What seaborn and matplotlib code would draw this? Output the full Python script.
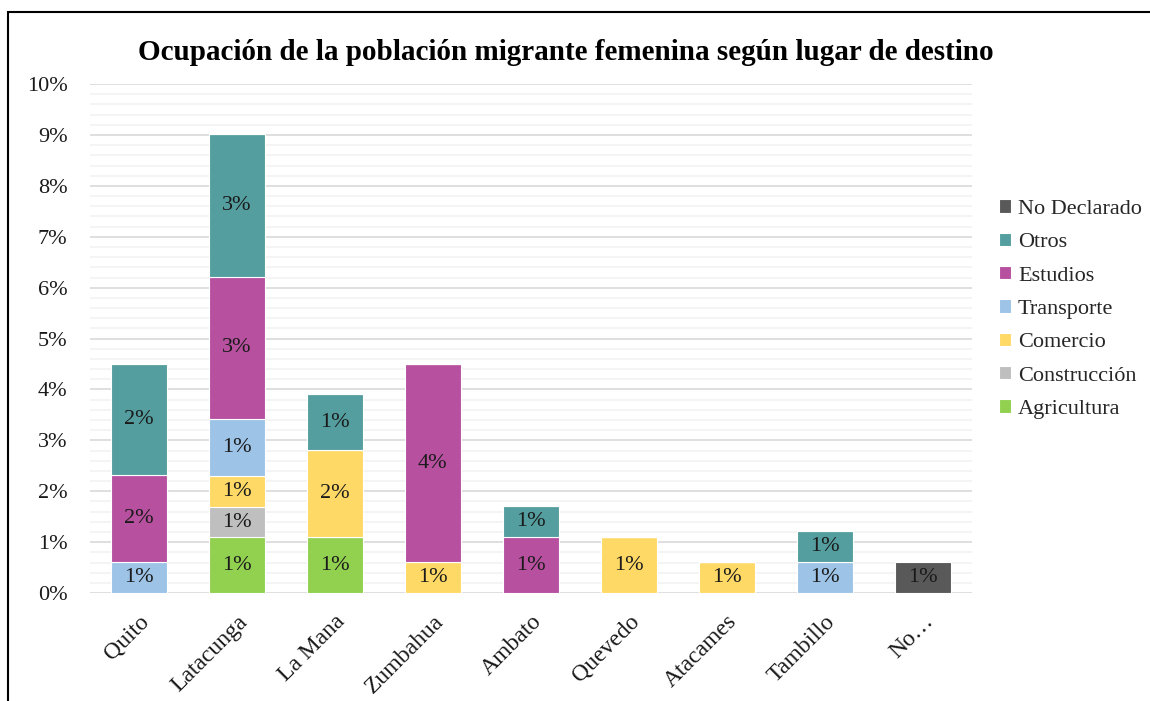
import matplotlib
matplotlib.use("Agg")
import matplotlib.pyplot as plt
from matplotlib.patches import Rectangle
from matplotlib.ticker import MultipleLocator, PercentFormatter
import seaborn as sns
import pandas as pd

# Destinations (x axis)
destinos = ["Quito", "Latacunga", "La Mana", "Zumbahua", "Ambato",
            "Quevedo", "Atacames", "Tambillo", "No…"]

# Share of female migrant population by occupation (percent), bottom to top
agricultura  = [0.00, 1.10, 1.10, 0.00, 0.00, 0.00, 0.00, 0.00, 0.00]
construccion = [0.00, 0.59, 0.00, 0.00, 0.00, 0.00, 0.00, 0.00, 0.00]
comercio     = [0.00, 0.61, 1.71, 0.61, 0.00, 1.10, 0.61, 0.00, 0.00]
transporte   = [0.61, 1.12, 0.00, 0.00, 0.00, 0.00, 0.00, 0.61, 0.00]
estudios     = [1.71, 2.79, 0.00, 3.89, 1.10, 0.00, 0.00, 0.00, 0.00]
otros        = [2.18, 2.81, 1.10, 0.00, 0.61, 0.00, 0.00, 0.61, 0.00]
no_declarado = [0.00, 0.00, 0.00, 0.00, 0.00, 0.00, 0.00, 0.00, 0.61]

series = [
    ("Agricultura", agricultura, "#92D050"),
    ("Construcción", construccion, "#BFBFBF"),
    ("Comercio", comercio, "#FFD966"),
    ("Transporte", transporte, "#9DC3E6"),
    ("Estudios", estudios, "#B7509F"),
    ("Otros", otros, "#559E9F"),
    ("No Declarado", no_declarado, "#595959"),
]

sns.set_theme(style="white")
plt.rcParams["font.family"] = ["Liberation Serif", "DejaVu Serif"]

fig = plt.figure(figsize=(11.5, 7.01), dpi=100)
ax = fig.add_axes([0.078, 0.154, 0.767, 0.726])

# Minor and major horizontal gridlines
ax.yaxis.set_major_locator(MultipleLocator(1))
ax.yaxis.set_minor_locator(MultipleLocator(0.2))
ax.grid(which="minor", axis="y", color="#F2F2F2", linewidth=1.2)
ax.grid(which="major", axis="y", color="#D9D9D9", linewidth=1.2)
ax.set_axisbelow(True)

bottom = [0.0] * len(destinos)
for name, vals, col in series:
    df = pd.DataFrame({"destino": destinos, "valor": vals})
    sns.barplot(data=df, x="destino", y="valor", order=destinos, color=col,
                saturation=1, width=0.57, bottom=bottom, ax=ax, label=name,
                edgecolor="white", linewidth=0.8, errorbar=None)
    cont = ax.containers[-1]
    labels = [f"{v:.0f}%" if v > 0 else "" for v in vals]
    ax.bar_label(cont, labels=labels, label_type="center",
                 fontsize=16, color="#1a1a1a")
    bottom = [b + v for b, v in zip(bottom, vals)]

handles, labs = ax.get_legend_handles_labels()
if ax.get_legend() is not None:
    ax.get_legend().remove()

ax.set_ylim(0, 10)
ax.set_xlim(-0.5, len(destinos) - 0.5)
ax.yaxis.set_major_formatter(PercentFormatter(decimals=0))
ax.set_xlabel("")
ax.set_ylabel("")
for s in ["top", "right", "left", "bottom"]:
    ax.spines[s].set_visible(False)
ax.tick_params(axis="both", which="both", length=0, labelsize=16,
               colors="#1a1a1a")
ax.tick_params(axis="x", labelsize=17, pad=13)
ax.tick_params(axis="y", pad=16)
plt.setp(ax.get_xticklabels(), rotation=45, ha="right",
         rotation_mode="anchor")

fig.legend(handles[::-1], labs[::-1], loc="center left",
           bbox_to_anchor=(0.861, 0.559), frameon=False, fontsize=16,
           handlelength=0.55, handleheight=0.55, handletextpad=0.3,
           labelspacing=0.62, borderaxespad=0)

fig.text(0.492, 0.925, "Ocupación de la población migrante femenina según lugar de destino",
         ha="center", va="center", fontsize=21, fontweight="bold",
         color="black")

# Chart frame
fig.patches.append(Rectangle((8 / 1150, -0.1), 1.2, 1.1 - 12 / 701,
                             transform=fig.transFigure, fill=False,
                             edgecolor="black", linewidth=1.5))

fig.savefig("out.png", dpi=100, facecolor="white")
